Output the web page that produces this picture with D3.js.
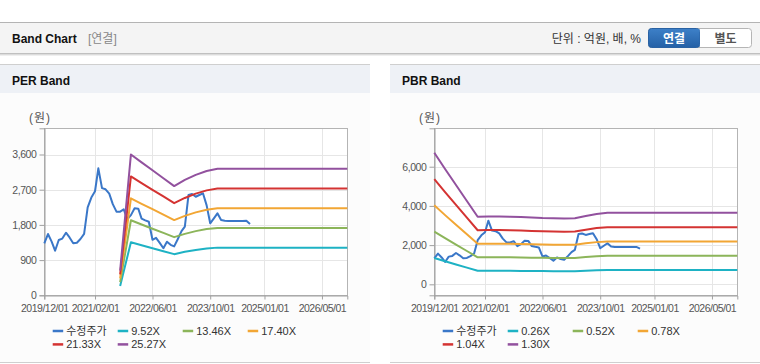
<!DOCTYPE html>
<html>
<head>
<meta charset="utf-8">
<script src="https://cdn.jsdelivr.net/npm/d3@7"></script>
<style>
  body { margin: 0; background: #fff; }
  text { font-family: "Liberation Sans", "Noto Sans CJK KR", sans-serif; }
</style>
</head>
<body>
<script>
// stock price (수정주가), one value per month from 2019/12
const priceStart = "2019-12-01";
const priceValues = [1330, 1567, 1371, 1140, 1414, 1450, 1600, 1480, 1330, 1345, 1440, 1570,
  2250, 2500, 2660, 3247, 2740, 2710, 2600, 2330, 2138, 2138, 2199, 1950,
  2050, 2224, 2215, 1960, 1915, 1880, 1420, 1470, 1340, 1202, 1371, 1290,
  1250, 1440, 1640, 1754, 2565, 2590, 2520, 2565, 2608, 2300, 1841, 1969,
  2096, 1925, 1907, 1900, 1900, 1900, 1900, 1900, 1907, 1823];

// PER bands
const perDates = ["2021-09-01", "2021-12-01", "2022-03-01", "2022-06-01", "2022-09-01", "2022-12-01",
  "2023-03-01", "2023-06-01", "2023-09-01", "2023-12-01", "2026-12-01"];
const perLabels = ["9.52X", "13.46X", "17.40X", "21.33X", "25.27X"];
const per952 = [238, 1357, 1280, 1204, 1128, 1052, 1111, 1160, 1198, 1219, 1219];
const per1346 = [337, 1918, 1810, 1703, 1595, 1487, 1571, 1641, 1693, 1723, 1723];
const per1740 = [435, 2480, 2340, 2201, 2062, 1923, 2031, 2121, 2189, 2227, 2227];
const per2133 = [533, 3040, 2869, 2698, 2528, 2357, 2489, 2600, 2683, 2730, 2730];
const per2527 = [632, 3601, 3399, 3197, 2994, 2792, 2949, 3080, 3179, 3235, 3235];

// PBR bands
const pbrDates = ["2019-12-01", "2020-03-01", "2020-06-01", "2020-09-01", "2020-12-01", "2021-03-01",
  "2021-06-01", "2021-09-01", "2021-12-01", "2022-03-01", "2022-06-01", "2022-09-01", "2022-12-01",
  "2023-03-01", "2023-06-01", "2023-09-01", "2023-12-01", "2026-12-01"];
const pbrLabels = ["0.26X", "0.52X", "0.78X", "1.04X", "1.30X"];
const pbr026 = [1343, 1177, 1014, 850, 690, 692, 692, 689, 686, 681, 676, 673, 672, 673, 697, 718, 729, 729];
const pbr052 = [2686, 2353, 2028, 1700, 1380, 1383, 1383, 1378, 1373, 1362, 1352, 1347, 1344, 1347, 1394, 1435, 1459, 1459];
const pbr078 = [4029, 3530, 3042, 2551, 2069, 2075, 2075, 2067, 2059, 2044, 2028, 2020, 2016, 2020, 2090, 2153, 2188, 2188];
const pbr104 = [5372, 4706, 4056, 3401, 2759, 2766, 2766, 2756, 2746, 2725, 2704, 2694, 2688, 2694, 2787, 2870, 2917, 2917];
const pbr130 = [6715, 5883, 5070, 4251, 3449, 3458, 3458, 3445, 3432, 3406, 3380, 3367, 3361, 3367, 3484, 3588, 3647, 3647];

const xTickDates = ["2019-12-01", "2021-02-01", "2022-06-01", "2023-10-01", "2025-01-01", "2026-05-01"];
const perTicks = [0, 900, 1800, 2700, 3600];
const pbrTicks = [0, 2000, 4000, 6000];

const colors = ["#3a77c8", "#1eb2c4", "#8cb55a", "#f2a634", "#d43332", "#92519e"];

const parse = d3.utcParse("%Y-%m-%d");
const priceDates = priceValues.map((v, i) => d3.utcMonth.offset(parse(priceStart), i));

const svg = d3.select("body").append("svg")
  .attr("width", 760).attr("height", 364);

// top header bar
svg.append("rect").attr("x", 0).attr("y", 22).attr("width", 760).attr("height", 31).attr("fill", "#f4f4f4");
svg.append("line").attr("x1", 0).attr("x2", 760).attr("y1", 22.5).attr("y2", 22.5).attr("stroke", "#b4b4b4");
[["#c0c0c0", 53.5], ["#dcdcdc", 54.5], ["#efefef", 55.5]].forEach(([c, y]) => {
  svg.append("line").attr("x1", 0).attr("x2", 760).attr("y1", y).attr("y2", y).attr("stroke", c);
});
svg.append("text").attr("x", 12).attr("y", 43).attr("font-size", 12).attr("font-weight", "bold")
  .attr("fill", "#111").text("Band Chart");
svg.append("text").attr("x", 88).attr("y", 43).attr("font-size", 12).attr("fill", "#888").text("[연결]");
svg.append("text").attr("x", 641).attr("y", 43).attr("font-size", 12).attr("fill", "#333")
  .attr("text-anchor", "end").text("단위 : 억원, 배, %");

// buttons
const grad = svg.append("defs").append("linearGradient").attr("id", "btn")
  .attr("x1", 0).attr("x2", 0).attr("y1", 0).attr("y2", 1);
grad.append("stop").attr("offset", "0%").attr("stop-color", "#3d80c8");
grad.append("stop").attr("offset", "100%").attr("stop-color", "#2561a6");
svg.append("rect").attr("x", 648.5).attr("y", 28.5).attr("width", 103).attr("height", 19).attr("rx", 3)
  .attr("fill", "#fff").attr("stroke", "#b5b5b5");
svg.append("rect").attr("x", 648.5).attr("y", 28.5).attr("width", 51).attr("height", 19).attr("rx", 3)
  .attr("fill", "url(#btn)").attr("stroke", "#2a62a3");
svg.append("rect").attr("x", 692).attr("y", 29).attr("width", 7.5).attr("height", 18).attr("fill", "url(#btn)");
svg.append("text").attr("x", 674).attr("y", 42.5).attr("font-size", 12).attr("font-weight", "bold")
  .attr("fill", "#fff").attr("text-anchor", "middle").text("연결");
svg.append("text").attr("x", 725.5).attr("y", 42.5).attr("font-size", 12).attr("font-weight", "bold")
  .attr("fill", "#555").attr("text-anchor", "middle").text("별도");

function drawPanel(x0, title) {
  const g = svg.append("g");
  g.append("rect").attr("x", x0).attr("y", 64).attr("width", 370).attr("height", 29).attr("fill", "#eef1f6");
  g.append("rect").attr("x", x0).attr("y", 93).attr("width", 370).attr("height", 270).attr("fill", "#fcfcfc");
  g.append("line").attr("x1", x0).attr("x2", x0 + 370).attr("y1", 64.5).attr("y2", 64.5).attr("stroke", "#cfcfcf");
  g.append("line").attr("x1", x0).attr("x2", x0 + 370).attr("y1", 362.5).attr("y2", 362.5).attr("stroke", "#cfcfcf");
  g.append("text").attr("x", x0 + 12).attr("y", 85).attr("font-size", 12).attr("font-weight", "bold")
    .attr("fill", "#111").text(title);
}

function drawChart(left, yDomain, yTicks, bandDates, bands, labels) {
  const top = 128.3, bottom = 295.3, right = left + 303;
  const x = d3.scaleUtc().domain([parse("2019-12-01"), parse("2026-12-01")]).range([left, right]);
  const y = d3.scaleLinear().domain(yDomain).range([bottom, top]);
  const g = svg.append("g");

  g.append("rect").attr("x", left).attr("y", top).attr("width", right - left).attr("height", bottom - top)
    .attr("fill", "#fff");

  // grid
  g.selectAll(".hg").data(yTicks).join("line")
    .attr("x1", left).attr("x2", right)
    .attr("y1", d => Math.round(y(d)) + 0.5).attr("y2", d => Math.round(y(d)) + 0.5)
    .attr("stroke", "#e6e6e6");
  g.selectAll(".vg").data(xTickDates.map(parse)).join("line")
    .attr("x1", d => Math.round(x(d)) + 0.5).attr("x2", d => Math.round(x(d)) + 0.5)
    .attr("y1", top).attr("y2", bottom)
    .attr("stroke", "#e6e6e6");

  // border
  g.append("rect").attr("x", Math.round(left) + 0.5).attr("y", Math.round(top) + 0.5)
    .attr("width", right - left).attr("height", bottom - top)
    .attr("fill", "none").attr("stroke", "#b4b4b4");

  // axes
  const yAxis = d3.axisLeft(y).tickValues(yTicks).tickSize(5).tickPadding(3).tickFormat(d3.format(","));
  const ya = g.append("g").attr("transform", `translate(${Math.round(left) + 0.5},0)`).call(yAxis);
  ya.select(".domain").attr("stroke", "#a0a0a0");
  ya.selectAll(".tick line").attr("stroke", "#a0a0a0");
  ya.selectAll(".tick text").attr("fill", "#555").attr("font-size", 10.5).attr("letter-spacing", "-0.4px")
    .style("font-family", '"Liberation Sans", sans-serif');

  const xAxis = d3.axisBottom(x).tickValues(xTickDates.map(parse)).tickSize(4).tickPadding(5)
    .tickFormat(d3.utcFormat("%Y/%m/%d"));
  const xa = g.append("g").attr("transform", `translate(0,${Math.round(bottom) + 0.5})`).call(xAxis);
  xa.select(".domain").attr("stroke", "#a0a0a0");
  xa.selectAll(".tick line").attr("stroke", "#a0a0a0");
  xa.selectAll(".tick text").attr("fill", "#555").attr("font-size", 10.5).attr("letter-spacing", "-0.5px")
    .style("font-family", '"Liberation Sans", sans-serif');

  g.append("text").attr("x", left - 4.3).attr("y", 122).attr("font-size", 12).attr("fill", "#555")
    .attr("text-anchor", "middle").attr("letter-spacing", "1px").text("(원)");

  // lines
  const line = d3.line().x(d => x(d[0])).y(d => y(d[1]));
  g.append("path").datum(priceDates.map((d, i) => [d, priceValues[i]]))
    .attr("d", line).attr("fill", "none").attr("stroke", colors[0]).attr("stroke-width", 2)
    .attr("stroke-linejoin", "round");
  bands.forEach((vals, k) => {
    g.append("path").datum(bandDates.map((d, i) => [parse(d), vals[i]]))
      .attr("d", line).attr("fill", "none").attr("stroke", colors[k + 1]).attr("stroke-width", 2)
      .attr("stroke-linejoin", "round");
  });

  // legend
  const names = ["수정주가"].concat(labels);
  const lg = g.selectAll(".lg").data(names).join("g")
    .attr("transform", (d, i) => `translate(${left + 8.4 + (i % 4) * 65},${331 + Math.floor(i / 4) * 13.4})`);
  lg.append("line").attr("x1", 0).attr("x2", 10.5).attr("y1", 0).attr("y2", 0)
    .attr("stroke", (d, i) => colors[i]).attr("stroke-width", 2.5);
  lg.append("text").attr("x", 13.5).attr("y", 4).attr("font-size", 11).attr("fill", "#333").text(d => d);
}

drawPanel(0, "PER Band");
drawPanel(390, "PBR Band");
drawChart(44.3, [0, 4270], perTicks, perDates, [per952, per1346, per1740, per2133, per2527], perLabels);
drawChart(434.3, [-560, 7960], pbrTicks, pbrDates, [pbr026, pbr052, pbr078, pbr104, pbr130], pbrLabels);
</script>
</body>
</html>
